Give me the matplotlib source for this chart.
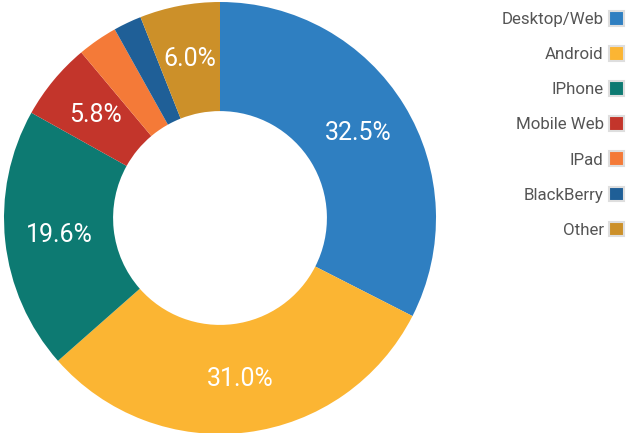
import matplotlib
matplotlib.use("Agg")
import matplotlib.pyplot as plt
from matplotlib.patches import Patch

plt.rcParams['font.family'] = ['Roboto', 'DejaVu Sans']

categories = ["Desktop/Web", "Android", "IPhone", "Mobile Web", "IPad", "BlackBerry", "Other"]
values = [32.5, 31.0, 19.6, 5.8, 3.0, 2.1, 6.0]
labels = ["32.5%", "31.0%", "19.6%", "5.8%", "", "", "6.0%"]
colors = ["#2f7fc1", "#fbb533", "#0d7a72", "#c3352b", "#f47a38", "#1f5f97", "#cc9029"]

W, H = 635, 433
fig = plt.figure(figsize=(W / 100, H / 100), dpi=100)
cx, cy, R = 220, 433 - 218, 216
ax = fig.add_axes([(cx - R) / W, (cy - R) / H, 2 * R / W, 2 * R / H])

wedges, texts = ax.pie(values, colors=colors, startangle=90, counterclock=False,
                       radius=1.0, labels=labels, labeldistance=0.75,
                       wedgeprops=dict(width=0.505, edgecolor='none'),
                       textprops=dict(color='white', fontsize=18, ha='center', va='center'))
for t in texts:
    t.set_horizontalalignment('center')
ax.set_xlim(-1, 1)
ax.set_ylim(-1, 1)
ax.set_aspect('equal')
ax.axis('off')

handles = [Patch(facecolor=c, edgecolor='#dedede', linewidth=1.5) for c in colors]
fig.legend(handles, categories, loc='upper right', bbox_to_anchor=(624 / W, 1 - 11 / H),
           frameon=False, markerfirst=False, fontsize=12.2, labelcolor='#555555',
           handlelength=0.9, handleheight=0.95, handletextpad=0.3, labelspacing=1.12,
           borderaxespad=0, borderpad=0)

fig.savefig("out.png", dpi=100)
